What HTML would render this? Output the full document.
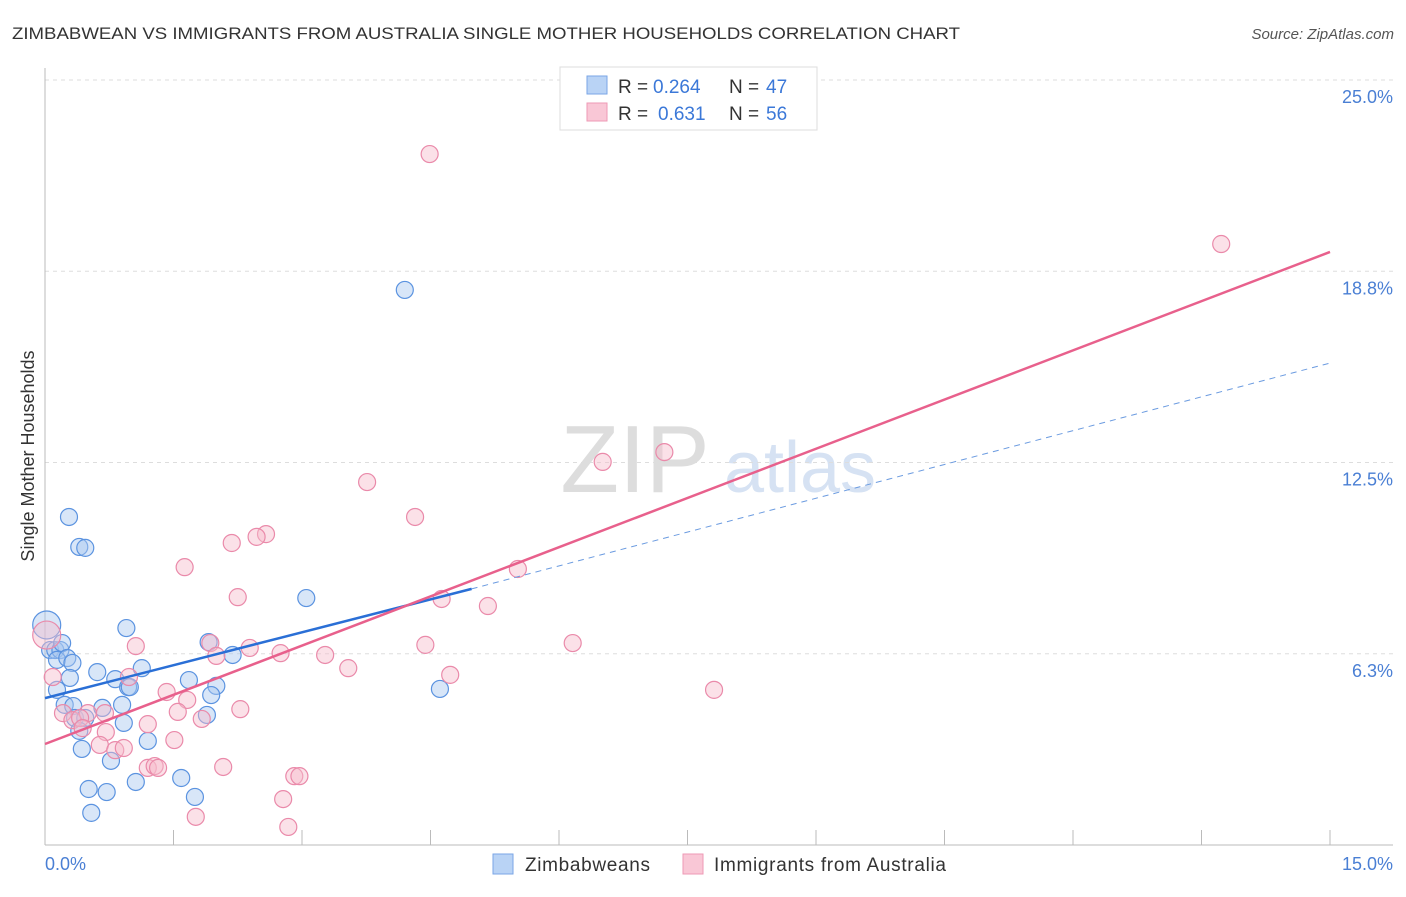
<!DOCTYPE html>
<html><head><meta charset="utf-8"><style>
body{margin:0;background:#fff;font-family:"Liberation Sans",sans-serif;}
svg text{font-family:"Liberation Sans",sans-serif;}
</style></head><body>
<svg id="chart" width="1406" height="892" xmlns="http://www.w3.org/2000/svg">
<text x="12" y="39" font-size="17" fill="#333" textLength="948" lengthAdjust="spacingAndGlyphs">ZIMBABWEAN VS IMMIGRANTS FROM AUSTRALIA SINGLE MOTHER HOUSEHOLDS CORRELATION CHART</text>
<text x="1394" y="39" font-size="15" fill="#555" font-style="italic" text-anchor="end">Source: ZipAtlas.com</text>
<text x="635" y="492" font-size="96" fill="#ddd" font-family="Liberation Serif" text-anchor="middle">ZIP</text>
<text x="800" y="492" font-size="72" fill="#d6e2f3" text-anchor="middle">atlas</text>
<g id="grid"></g>
<line x1="45" y1="68" x2="45" y2="845" stroke="#bbb"/>
<line x1="45" y1="845" x2="1393" y2="845" stroke="#bbb"/>
<g id="xticks"></g>
<text x="45" y="870" font-size="18" fill="#4a7fd4">0.0%</text>
<text x="1393" y="870" font-size="18" fill="#4a7fd4" text-anchor="end">15.0%</text>
<text transform="translate(34,456) rotate(-90)" font-size="18" fill="#333" text-anchor="middle">Single Mother Households</text>
<g id="points"></g>
<g id="trends"></g>
<g>
<rect x="560" y="67" width="257" height="63" fill="#fff" stroke="#ddd"/>
<rect x="587" y="76" width="20" height="18" fill="#b9d3f5" stroke="#7aa6e6"/>
<rect x="587" y="103" width="20" height="18" fill="#f9c7d6" stroke="#ee9ab5"/>
<text x="618" y="93" font-size="19" fill="#333">R =</text>
<text x="653" y="93" font-size="19" fill="#3b78d8">0.264</text>
<text x="729" y="93" font-size="19" fill="#333">N =</text>
<text x="766" y="93" font-size="19" fill="#3b78d8">47</text>
<text x="618" y="120" font-size="19" fill="#333">R =</text>
<text x="658" y="120" font-size="19" fill="#3b78d8">0.631</text>
<text x="729" y="120" font-size="19" fill="#333">N =</text>
<text x="766" y="120" font-size="19" fill="#3b78d8">56</text>
</g>
<g>
<rect x="493" y="854" width="20" height="20" fill="#b9d3f5" stroke="#7aa6e6"/>
<text x="525" y="871" font-size="19" fill="#333" textLength="125">Zimbabweans</text>
<rect x="683" y="854" width="20" height="20" fill="#f9c7d6" stroke="#ee9ab5"/>
<text x="714" y="871" font-size="19" fill="#333" textLength="232">Immigrants from Australia</text>
</g>
</svg>
<script>
const yTicks=[6.25,12.5,18.75,25];
const yTickLabels=["6.3%","12.5%","18.8%","25.0%"];
const xTickVals=[0,1.5,3,4.5,6,7.5,9,10.5,12,13.5,15];
const blueX=[0.02,0.06,0.12,0.18,0.20,0.14,0.26,0.32,0.29,0.14,0.23,0.33,0.35,0.47,0.40,0.43,0.28,0.40,0.47,0.61,0.67,0.95,0.82,0.97,0.99,1.13,0.90,0.92,1.20,0.77,1.06,0.51,0.72,0.54,1.59,1.75,1.68,2.00,1.94,1.89,1.91,2.19,3.05,4.20,4.61];
const blueY=[7.19,6.37,6.37,6.37,6.60,6.05,6.11,5.95,5.46,5.07,4.58,4.54,4.15,4.15,3.73,3.14,10.72,9.74,9.71,5.65,4.48,7.09,5.42,5.16,5.16,5.78,4.58,3.99,3.40,2.75,2.06,1.83,1.73,1.05,2.19,1.57,5.39,5.20,4.90,4.25,6.63,6.21,8.07,18.14,5.10];
const pinkX=[4.49,13.73,3.76,4.32,6.51,7.23,5.52,5.17,4.63,6.16,4.44,4.73,3.54,3.27,2.75,2.58,2.47,2.18,2.25,1.63,1.93,2.00,2.39,2.28,1.66,1.55,1.42,0.98,1.06,0.70,0.50,0.21,0.32,0.41,0.44,0.71,0.64,0.82,0.92,1.20,1.51,1.20,1.28,1.32,2.08,1.83,2.91,2.97,2.78,1.76,2.84,7.81,0.09,0.02];
const pinkY=[22.58,19.64,11.86,10.72,12.52,12.84,9.02,7.81,8.04,6.60,6.54,5.56,5.78,6.21,6.27,10.16,10.07,9.87,8.10,9.08,6.60,6.18,6.44,4.44,4.74,4.35,5.00,5.49,6.50,4.31,4.31,4.31,4.08,4.15,3.82,3.69,3.27,3.10,3.17,3.95,3.43,2.52,2.58,2.52,2.55,4.12,2.25,2.25,1.50,0.92,0.59,5.07,5.49,6.86];
const blueTrend=[0,4.80,4.98,8.37,15,15.75];
const pinkTrend=[0,3.30,15,19.38];
const NS="http://www.w3.org/2000/svg";
const sx=v=>45+v/15*1285, sy=v=>845-v/25*765;
function mk(tag,attrs,parent){const e=document.createElementNS(NS,tag);for(const k in attrs)e.setAttribute(k,attrs[k]);document.getElementById(parent).appendChild(e);return e;}
yTicks.forEach((t,i)=>{
 const l=mk('line',{x1:45,x2:1393,y1:sy(t),y2:sy(t),stroke:'#ddd','stroke-dasharray':'4,4'},'grid');
 
 
 const tx=mk('text',{x:1393,y:sy(t)+23,'font-size':18,fill:'#4a7fd4','text-anchor':'end'},'grid');
 tx.textContent=yTickLabels[i];
 
 
});
xTickVals.forEach(v=>{
 const l=mk('line',{x1:sx(v),x2:sx(v),y1:830,y2:845,stroke:'#bbb'},'xticks');
 
 
});
function dots(X,Y,fill,stroke,name){X.forEach((x,i)=>{
 const big=(x<0.05);
 const c=mk('circle',{cx:sx(x),cy:sy(Y[i]),r:big?14:8.5,fill:fill,'fill-opacity':0.45,stroke:stroke,'stroke-width':1.2},'points');
 
 
});}
dots(blueX,blueY,'#a9c8f0','#5b93e0','zimbabwean-point');
dots(pinkX,pinkY,'#f6bccd','#ea8aaa','australia-point');
let l=mk('line',{x1:sx(blueTrend[0]),y1:sy(blueTrend[1]),x2:sx(blueTrend[2]),y2:sy(blueTrend[3]),stroke:'#2a6fd6','stroke-width':2.5},'trends');


l=mk('line',{x1:sx(blueTrend[2]),y1:sy(blueTrend[3]),x2:sx(blueTrend[4]),y2:sy(blueTrend[5]),stroke:'#6b9be0','stroke-width':1,'stroke-dasharray':'6,5'},'trends');


l=mk('line',{x1:sx(pinkTrend[0]),y1:sy(pinkTrend[1]),x2:sx(pinkTrend[2]),y2:sy(pinkTrend[3]),stroke:'#e8608c','stroke-width':2.5},'trends');


</script>
</body></html>
